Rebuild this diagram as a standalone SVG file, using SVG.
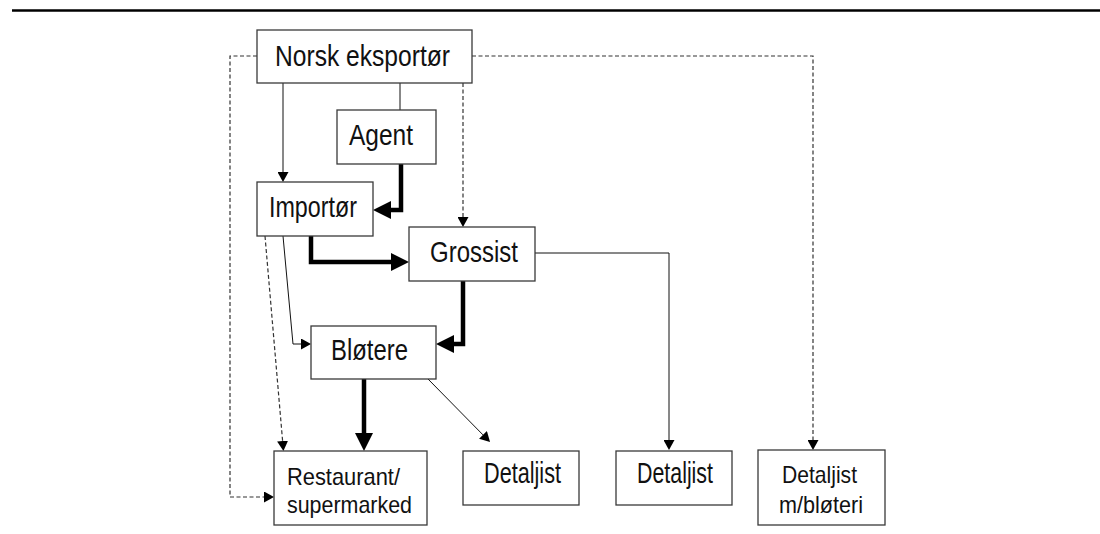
<svg xmlns="http://www.w3.org/2000/svg" width="1100" height="534" viewBox="0 0 1100 534">
<style>
.box{fill:#fff;stroke:#3a3a3a;stroke-width:1.3}
.t{font-family:"Liberation Sans",Arial,sans-serif;fill:#111;font-size:29px}
.s{font-size:24px}
.thin{fill:none;stroke:#111;stroke-width:1}
.thick{fill:none;stroke:#000;stroke-width:4.5;stroke-linejoin:miter}
.dash{fill:none;stroke:#333;stroke-width:1.2;stroke-dasharray:4,2.5}
</style>
<defs>
<marker id="a" markerUnits="userSpaceOnUse" markerWidth="10" markerHeight="11" refX="0" refY="5.5" orient="auto" viewBox="0 0 10 11"><path d="M0,0 L10,5.5 L0,11 z" fill="#000"/></marker>
<marker id="A" markerUnits="userSpaceOnUse" markerWidth="18" markerHeight="18" refX="0" refY="9" orient="auto" viewBox="0 0 18 18"><path d="M0,0 L18,9 L0,18 z" fill="#000"/></marker>
</defs>
<line x1="12" y1="10.5" x2="1100" y2="10.5" stroke="#000" stroke-width="2.6"/>
<g id="connectors">
<path class="thin" d="M283,83 V172" marker-end="url(#a)"/>
<path class="thin" d="M400,83 V110"/>
<path class="thick" d="M401,164 V210 H391" marker-end="url(#A)"/>
<path class="dash" d="M463,83 V217" marker-end="url(#a)"/>
<path class="dash" d="M257,56 H230 V497 H264" marker-end="url(#a)"/>
<path class="dash" d="M472,56 H813 V440" marker-end="url(#a)"/>
<path class="thick" d="M311,236 V262 H391" marker-end="url(#A)"/>
<path class="thin" d="M283,236 L293,344 H301" marker-end="url(#a)"/>
<path class="dash" d="M265,236 L282.6,441" marker-end="url(#a)"/>
<path class="thick" d="M463,281 V344 H454" marker-end="url(#A)"/>
<path class="thin" d="M535,253 H669 V440" marker-end="url(#a)"/>
<path class="thick" d="M364,379 V433" marker-end="url(#A)"/>
<path class="thin" d="M428,379 L483,434.9" marker-end="url(#a)"/>
</g>
<g id="norsk"><rect class="box" x="257" y="30" width="215" height="53"/><text class="t" x="275" y="66" textLength="175" lengthAdjust="spacingAndGlyphs">Norsk eksportør</text></g>
<g id="agent"><rect class="box" x="337" y="110" width="99" height="54"/><text class="t" x="349" y="145" textLength="64" lengthAdjust="spacingAndGlyphs">Agent</text></g>
<g id="importor"><rect class="box" x="257" y="182" width="116" height="54"/><text class="t" x="269" y="217" textLength="88" lengthAdjust="spacingAndGlyphs">Importør</text></g>
<g id="grossist"><rect class="box" x="409" y="227" width="126" height="54"/><text class="t" x="430" y="262" textLength="88" lengthAdjust="spacingAndGlyphs">Grossist</text></g>
<g id="blotere"><rect class="box" x="311" y="326" width="125" height="53"/><text class="t" x="331" y="360" textLength="77" lengthAdjust="spacingAndGlyphs">Bløtere</text></g>
<g id="restaurant"><rect class="box" x="274" y="451" width="153" height="74"/><text class="t s" x="287" y="485" textLength="113" lengthAdjust="spacingAndGlyphs">Restaurant/</text><text class="t s" x="287" y="513" textLength="125" lengthAdjust="spacingAndGlyphs">supermarked</text></g>
<g id="detaljist1"><rect class="box" x="463" y="451" width="116" height="54"/><text class="t" x="484" y="483" textLength="77" lengthAdjust="spacingAndGlyphs">Detaljist</text></g>
<g id="detaljist2"><rect class="box" x="616" y="451" width="116" height="54"/><text class="t" x="637" y="483" textLength="76" lengthAdjust="spacingAndGlyphs">Detaljist</text></g>
<g id="detaljist3"><rect class="box" x="758" y="450" width="127" height="75"/><text class="t s" x="782" y="483" textLength="75" lengthAdjust="spacingAndGlyphs">Detaljist</text><text class="t s" x="779" y="513" textLength="84" lengthAdjust="spacingAndGlyphs">m/bløteri</text></g>
</svg>
